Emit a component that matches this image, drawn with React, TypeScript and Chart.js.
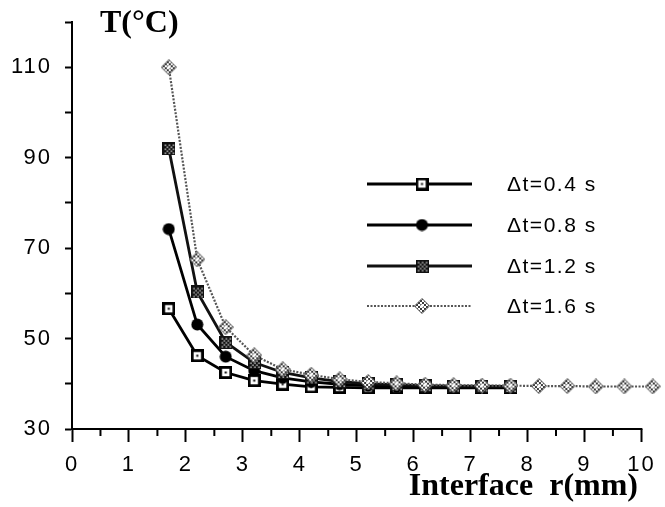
import React, { useEffect, useRef } from 'react';
import { Chart, registerables } from 'chart.js';

Chart.register(...registerables);

// ---- data ----
const radii = [1.7, 2.2, 2.7, 3.2, 3.7, 4.2, 4.7, 5.2, 5.7, 6.2, 6.7, 7.2, 7.7, 8.2, 8.7, 9.2, 9.7, 10.2];
const seriesLabels = ['\u0394t=0.4 s', '\u0394t=0.8 s', '\u0394t=1.2 s', '\u0394t=1.6 s'];
const t04 = [56.6, 46.2, 42.5, 40.7, 39.9, 39.3, 39.2, 39.1, 39.1, 39.1, 39.1, 39.1, 39.1];
const t08 = [74.2, 53.1, 46.0, 42.9, 41.3, 40.4, 39.9, 39.6, 39.4, 39.3, 39.3, 39.3, 39.3];
const t12 = [92.0, 60.3, 49.2, 44.7, 42.5, 41.3, 40.5, 40.0, 39.8, 39.6, 39.5, 39.5, 39.4];
const t16 = [110, 67.5, 52.5, 46.3, 43.2, 42.0, 41.0, 40.4, 40.1, 39.8, 39.7, 39.6, 39.6, 39.5, 39.5, 39.4, 39.4, 39.4];
const yLabelledTicks = [30, 50, 70, 90, 110];
const xAxisStart = 0;
const xAxisEnd = 10;
const xMinorTicks = [0.5, 1.5, 2.5, 3.5, 4.5, 5.5, 6.5, 7.5, 8.5, 9.5];
const xTitle = 'Interface  r(mm)';
const yTitle = 'T(\u00B0C)';

const toPoints = (vals: number[]) => vals.map((v, i) => ({ x: radii[i], y: v }));

function makeCanvas(w: number, h: number): [HTMLCanvasElement, CanvasRenderingContext2D] {
  const c = document.createElement('canvas');
  c.width = w;
  c.height = h;
  return [c, c.getContext('2d') as CanvasRenderingContext2D];
}

function diamondPath(d: CanvasRenderingContext2D, s: number) {
  const m = s / 2;
  d.beginPath();
  d.moveTo(m, 0.5);
  d.lineTo(s - 0.5, m);
  d.lineTo(m, s - 0.5);
  d.lineTo(0.5, m);
  d.closePath();
}

function makeMarkers() {
  // hollow square with centre dot
  const [sq, s] = makeCanvas(13, 13);
  s.fillStyle = '#fff';
  s.fillRect(0, 0, 13, 13);
  s.strokeStyle = '#000';
  s.lineWidth = 2.8;
  s.strokeRect(1.4, 1.4, 10.2, 10.2);
  s.fillStyle = '#000';
  s.fillRect(5.5, 5.5, 2, 2);

  // filled circle
  const [ci, c] = makeCanvas(13, 13);
  c.fillStyle = '#000';
  c.beginPath();
  c.arc(6.5, 6.5, 6, 0, Math.PI * 2);
  c.fill();

  // hatched dark square
  const [ha, h] = makeCanvas(13, 13);
  h.fillStyle = '#111';
  h.fillRect(0, 0, 13, 13);
  h.fillStyle = '#fff';
  for (let i = 1; i < 6; i++) {
    for (let j = 1; j < 6; j++) {
      if ((i + j) % 2 === 0) h.fillRect(i * 2 + 0.5, j * 2 + 0.5, 1.3, 1.3);
    }
  }

  // checkered light diamond
  const S = 16;
  const [di, d] = makeCanvas(S, S);
  d.save();
  diamondPath(d, S);
  d.clip();
  d.fillStyle = '#fff';
  d.fillRect(0, 0, S, S);
  d.fillStyle = '#3a3a3a';
  for (let i = 0; i < 8; i++) {
    for (let j = 0; j < 8; j++) {
      if ((i + j) % 2 === 0) d.fillRect(i * 2, j * 2, 2, 2);
    }
  }
  d.restore();
  d.strokeStyle = '#555';
  d.lineWidth = 1;
  diamondPath(d, S);
  d.stroke();
  d.fillStyle = '#fff';
  d.fillRect(6.5, 6.5, 3, 3);

  return [sq, ci, ha, di];
}

const TICK_FONT = { family: '"Liberation Sans", Arial, sans-serif', size: 22 };

export default function App() {
  const ref = useRef<HTMLCanvasElement | null>(null);

  useEffect(() => {
    if (!ref.current) return;
    const markers = makeMarkers();
    const lineColors = ['#000', '#000', '#111', '#555'];
    const lineWidths = [2.8, 2.8, 2.8, 2.2];
    const dashes: number[][] = [[], [], [], [2, 1.5]];
    const values = [t04, t08, t12, t16];

    const decor = {
      id: 'decor',
      beforeDraw(chart: any) {
        (chart.ctx as any).letterSpacing = '2px';
      },
      afterDraw(chart: any) {
        const ctx = chart.ctx as CanvasRenderingContext2D;
        (ctx as any).letterSpacing = '0px';
        const xs = chart.scales.x;
        const area = chart.chartArea;
        ctx.save();
        ctx.strokeStyle = '#000';
        // x axis line (0..10)
        ctx.lineWidth = 2;
        ctx.beginPath();
        ctx.moveTo(xs.getPixelForValue(xAxisStart) - 1, area.bottom);
        ctx.lineTo(xs.getPixelForValue(xAxisEnd) + 1, area.bottom);
        ctx.stroke();
        // minor x ticks
        for (const v of xMinorTicks) {
          const px = xs.getPixelForValue(v);
          ctx.beginPath();
          ctx.moveTo(px, area.bottom);
          ctx.lineTo(px, area.bottom + 7);
          ctx.stroke();
        }
        // titles
        ctx.fillStyle = '#000';
        ctx.font = 'bold 32px "Liberation Serif", "Times New Roman", serif';
        ctx.textBaseline = 'alphabetic';
        ctx.textAlign = 'left';
        ctx.fillText(yTitle, 100, 32);
        ctx.textAlign = 'right';
        ctx.fillText(xTitle, 638, 495);
        // legend
        const rows = [184, 225, 266, 306];
        ctx.font = '21px "Liberation Sans", Arial, sans-serif';
        ctx.textAlign = 'left';
        ctx.textBaseline = 'middle';
        rows.forEach((ry, i) => {
          ctx.strokeStyle = lineColors[i];
          ctx.lineWidth = lineWidths[i];
          ctx.setLineDash(dashes[i]);
          ctx.beginPath();
          ctx.moveTo(367, ry);
          ctx.lineTo(472, ry);
          ctx.stroke();
          ctx.setLineDash([]);
          const m = markers[i];
          ctx.drawImage(m, 422 - m.width / 2, ry - m.height / 2);
          ctx.fillStyle = '#000';
          (ctx as any).letterSpacing = '1.5px';
          ctx.fillText(seriesLabels[i], 507, ry + 1);
          (ctx as any).letterSpacing = '0px';
        });
        ctx.restore();
      },
    };

    const chart = new Chart(ref.current, {
      type: 'line',
      data: {
        datasets: values.map((vals, i) => ({
          label: seriesLabels[i],
          data: toPoints(vals),
          borderColor: lineColors[i],
          borderWidth: lineWidths[i],
          borderDash: dashes[i],
          pointStyle: markers[i] as any,
          pointRadius: 6,
          tension: 0,
          fill: false,
          clip: false as any,
          order: 3 - i,
        })),
      },
      options: {
        animation: false,
        responsive: false,
        devicePixelRatio: 1,
        layout: { padding: { top: 22, right: 0, left: 0, bottom: 0 } },
        plugins: {
          legend: { display: false },
          tooltip: { enabled: false },
        },
        scales: {
          x: {
            type: 'linear',
            min: 0,
            max: 10.26,
            border: { display: false },
            grid: {
              display: true,
              drawOnChartArea: false,
              drawTicks: true,
              tickLength: 13,
              tickWidth: 2,
              tickColor: '#000',
            },
            ticks: {
              stepSize: 1,
              includeBounds: false,
              autoSkip: false,
              maxRotation: 0,
              padding: 10,
              color: '#000',
              font: TICK_FONT,
            },
            afterFit(scale: any) {
              scale.height = 78;
              scale.paddingLeft = 0;
              scale.paddingRight = 0;
            },
          },
          y: {
            type: 'linear',
            min: 30,
            max: 120,
            border: { display: true, color: '#000', width: 2 },
            grid: {
              display: true,
              drawOnChartArea: false,
              drawTicks: true,
              tickLength: 7,
              tickWidth: 2,
              tickColor: '#000',
            },
            ticks: {
              stepSize: 10,
              autoSkip: false,
              padding: 13,
              color: '#000',
              font: TICK_FONT,
              callback: (v: any) => (yLabelledTicks.includes(Number(v)) ? String(v) : ''),
            },
            afterFit(scale: any) {
              scale.width = 72;
              scale.paddingTop = 0;
              scale.paddingBottom = 0;
            },
          },
        },
      },
      plugins: [decor],
    });
    return () => chart.destroy();
  }, []);

  return (
    <div style={{ position: 'absolute', left: 0, top: 0, width: 665, height: 507, background: '#fff' }}>
      <canvas ref={ref} width={665} height={507} />
    </div>
  );
}
